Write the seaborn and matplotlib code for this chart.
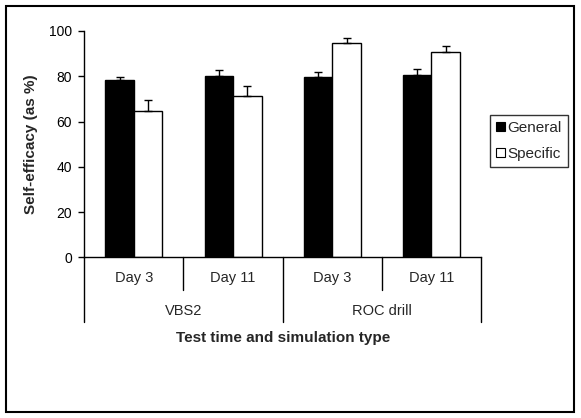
import matplotlib
matplotlib.use("Agg")
import matplotlib.pyplot as plt
import matplotlib.transforms as mtransforms
from matplotlib.patches import Rectangle, Patch
import seaborn as sns
import pandas as pd

# values
conditions = ["VBS2 Day 3", "VBS2 Day 11", "ROC Day 3", "ROC Day 11"]
day_labels = ["Day 3", "Day 11", "Day 3", "Day 11"]
sim_labels = ["VBS2", "ROC drill"]
series = ["General", "Specific"]
general = [78.3, 80.2, 79.8, 80.4]
specific = [64.6, 71.2, 94.7, 90.7]
general_err = [1.3, 2.5, 2.1, 2.9]
specific_err = [4.9, 4.4, 2.2, 2.8]

df = pd.DataFrame({
    "cond": conditions * 2,
    "type": ["General"] * 4 + ["Specific"] * 4,
    "value": general + specific,
})
errs = {"General": general_err, "Specific": specific_err}

sns.set_style("white")
plt.rcParams["font.family"] = ["Liberation Sans", "DejaVu Sans"]

fig = plt.figure(figsize=(5.81, 4.18), dpi=100)
ax = fig.add_axes([84.3 / 581, 1 - 257.3 / 418, (481 - 84.3) / 581, 226.3 / 418])

sns.barplot(data=df, x="cond", y="value", hue="type", order=conditions,
            hue_order=series, palette={"General": "black", "Specific": "white"},
            edgecolor="black", linewidth=1, width=0.576, errorbar=None,
            legend=False, ax=ax)

# upward-only error bars on each bar
for cont, name in zip(ax.containers, series):
    bars = sorted(cont.patches, key=lambda p: p.get_x())
    for bar, e in zip(bars, errs[name]):
        cx = bar.get_x() + bar.get_width() / 2
        ax.errorbar(cx, bar.get_height(), yerr=[[0], [e]], color="black",
                    lw=1, capsize=3.2, capthick=1, fmt="none")

ax.set_xlim(-0.5, 3.5)
ax.set_ylim(0, 100)
ax.set_yticks(range(0, 101, 20))
ax.tick_params(axis="y", direction="out", length=4, width=1, pad=5,
               labelsize=10, left=True, colors="black")
ax.set_xticks([])
ax.set_xlabel("")
ax.set_ylabel("Self-efficacy (as %)", fontsize=11, fontweight="bold")
ax.yaxis.set_label_coords(-0.117, 0.5)
sns.despine(ax=ax, top=True, right=True)
for s in ["left", "bottom"]:
    ax.spines[s].set_color("black")
    ax.spines[s].set_linewidth(1)

# two-level category axis
tr = mtransforms.blended_transform_factory(ax.transData, ax.transAxes)
for x in [0.5, 2.5]:
    ax.plot([x, x], [0, -0.146], color="black", lw=1, transform=tr, clip_on=False)
for x in [-0.5, 1.5, 3.5]:
    ax.plot([x, x], [0, -0.288], color="black", lw=1, transform=tr, clip_on=False)
for i, lab in enumerate(day_labels):
    ax.text(i, -0.093, lab, transform=tr, ha="center", va="center", fontsize=10.5)
for i, lab in enumerate(sim_labels):
    ax.text(0.5 + 2 * i, -0.238, lab, transform=tr, ha="center", va="center", fontsize=10.5)
ax.text(1.5, -0.357, "Test time and simulation type", transform=tr,
        ha="center", va="center", fontsize=11, fontweight="bold")

handles = [Patch(facecolor="black", edgecolor="black", lw=0.8),
           Patch(facecolor="white", edgecolor="black", lw=0.8)]
leg = fig.legend(handles, series, loc="upper left",
                 bbox_to_anchor=(490 / 581, 1 - 115 / 418), fontsize=11,
                 frameon=True, fancybox=False, edgecolor="black",
                 handlelength=0.55, handleheight=0.55, handletextpad=0.2,
                 labelspacing=0.75, borderpad=0.4, borderaxespad=0)
leg.get_frame().set_linewidth(1)

# outer frame around the whole chart
fig.patches.append(Rectangle((6 / 581, 6 / 418), 568 / 581, 406 / 418,
                             transform=fig.transFigure, fill=False,
                             edgecolor="black", lw=1.5))

fig.savefig("out.png", dpi=100, facecolor="white")
